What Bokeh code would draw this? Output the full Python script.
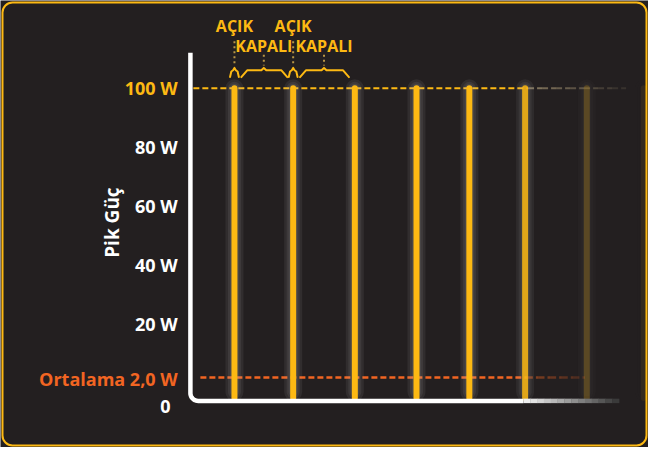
import numpy as np
from bokeh.plotting import figure
from bokeh.models import ColumnDataSource, BoxAnnotation
from bokeh.core.properties import value
from bokeh.embed import file_html
from bokeh.resources import INLINE

# ---------------- data ----------------
pulse_times = [0.0, 1.0, 2.05, 3.1, 4.0, 4.95, 6.0, 6.97]
pulse_power = [100, 100, 100, 100, 100, 100, 100, 100]
pulse_alpha = [1.0, 1.0, 1.0, 1.0, 1.0, 0.85, 0.22, 0.08]
peak_power = 100
average_power = 2.0
tick_values = [20, 40, 60, 80]
tick_labels = ["20 W", "40 W", "60 W", "80 W"]
peak_label = "100 W"
average_label = "Ortalama 2,0 W"
zero_label = "0"
y_title = "Pik Güç"
on_label = "AÇIK"
off_label = "KAPALI"

# ---------------- style ----------------
BG = "#231F20"
YELLOW = "#FDB913"
ORANGE = "#F26522"
WHITE = "#FFFFFF"
FONT = value("Open Sans")

W, H = 648, 447
X0, X1 = -3.984, 7.051
Y0, Y1 = -21.69, 129.74
XS = (X1 - X0) / W      # data per screen px (x)
YS = (Y1 - Y0) / H      # data per screen px (y)
RX = 1 / 60.0           # data per reference px (x)
RY = 1 / 3.045          # data per reference px (y)

p = figure(width=W, height=H, x_range=(X0, X1), y_range=(Y0, Y1),
           x_axis_type=None, y_axis_type=None, output_backend="svg",
           toolbar_location=None, min_border=0,
           background_fill_color=BG, border_fill_color=BG,
           outline_line_color=None)
p.grid.visible = False

# card border
p.add_layout(BoxAnnotation(left=X0 + 2 * XS, right=X1 - 2 * XS,
                           bottom=Y0 + 2 * YS, top=Y1 - 2 * YS,
                           fill_alpha=0, line_color=YELLOW, line_alpha=1.0,
                           line_width=2, border_radius=10))

axis_x = -0.75
floor = -5.9
axis_top = 112
line_start = -0.7
fade_start = 4.95


def fade_edges(a, b, n):
    return np.linspace(a, b, n + 1)


# 100 W dashed peak line
p.line([line_start, fade_start + 0.05], [peak_power, peak_power], line_color=YELLOW,
       line_width=2, line_dash="6 3")
e = fade_edges(fade_start + 0.05, 6.67, 7)
for i in range(7):
    p.line([e[i], e[i + 1]], [peak_power, peak_power], line_color="#C8B48A",
           line_alpha=0.55 - 0.07 * i, line_width=2, line_dash="6 3")

# average dashed line
p.line([line_start + 0.12, fade_start + 0.03], [average_power, average_power],
       line_color=ORANGE, line_width=2.5, line_dash="6 3")
e = fade_edges(fade_start + 0.03, 5.97, 5)
for i in range(5):
    p.line([e[i], e[i + 1]], [average_power, average_power], line_color=ORANGE,
           line_alpha=0.45 - 0.06 * i, line_width=2.5, line_dash="6 3")

# pulses
src = ColumnDataSource(dict(t=pulse_times, pw=pulse_power, a=pulse_alpha,
                            fl=[floor + 1.0] * len(pulse_times),
                            gfl=[floor + 3.0] * len(pulse_times),
                            ga=[0.1 * v for v in pulse_alpha]))
for lw in (18, 13, 9):
    p.segment(x0="t", y0="gfl", x1="t", y1="pw", source=src, line_color="#B0B0B0",
              line_alpha="ga", line_width=lw, line_cap="round")
p.segment(x0="t", y0="fl", x1="t", y1="pw", source=src, line_color=YELLOW,
          line_alpha="a", line_width=6, line_cap="round")

# axis frame (vertical + rounded corner + baseline)
rx = 8 * RX
ry = 8 * RY
th = np.linspace(np.pi, 1.5 * np.pi, 12)
ax_path_x = [axis_x] + list(axis_x + rx + rx * np.cos(th)) + [fade_start - 0.03]
ax_path_y = [axis_top] + list(floor + ry + ry * np.sin(th)) + [floor]
p.line(ax_path_x, ax_path_y, line_color=WHITE, line_width=4.5, line_join="round")
n = 14
e = fade_edges(fade_start - 0.03, 6.55, n)
c0 = np.array([240, 240, 240])
c1 = np.array([58, 58, 58])
for i in range(n):
    f = i / (n - 1)
    c = (c0 * (1 - f) + c1 * f).astype(int)
    p.line([e[i], e[i + 1] + 0.005], [floor, floor], line_color="#%02x%02x%02x" % tuple(c),
           line_width=4.5, line_cap="butt")

# labels
label_x = -0.967
p.text(x=[label_x] * len(tick_values), y=tick_values, text=tick_labels,
       text_font=FONT, text_font_style="bold", text_font_size="18px",
       text_color=WHITE, text_align="right", text_baseline="middle")
p.text(x=[label_x], y=[peak_power], text=[peak_label], text_font=FONT,
       text_font_style="bold", text_font_size="18px", text_color=YELLOW,
       text_align="right", text_baseline="middle")
p.text(x=[label_x], y=[average_power], text=[average_label], text_font=FONT,
       text_font_style="bold", text_font_size="18px", text_color=ORANGE,
       text_align="right", text_baseline="middle", y_offset=1)
p.text(x=[label_x], y=[floor], text=[zero_label], text_font=FONT,
       text_font_style="bold", text_font_size="18px", text_color=WHITE,
       text_align="right", text_baseline="middle", x_offset=-7, y_offset=6)
p.text(x=[-2.083], y=[54.5], text=[y_title], text_font=FONT,
       text_font_style="bold", text_font_size="19px", text_color=WHITE,
       text_align="center", text_baseline="middle", angle=np.pi / 2)

# ON / OFF annotations for the first two periods
foot = peak_power + 3.8
top = peak_power + 6.1
tip = peak_power + 6.9
bx, by = [], []
dx, dy = [], []
for k in range(2):
    t = pulse_times[k]
    offs = [(-4.5, foot), (-3.2, top - 0.4), (-1.4, top), (0, tip), (1.4, top), (3.2, top - 0.4), (4.5, foot)]
    bx.append([t + o * RX for o, _ in offs])
    by.append([yy for _, yy in offs])
    a = t + 7 * RX
    b = pulse_times[k + 1] - 6 * RX
    m = (t + pulse_times[k + 1]) / 2
    bx.append([a, a + 6 * RX, m - 2.5 * RX, m, m + 2.5 * RX, b - 6 * RX, b])
    by.append([foot, top, top, tip, top, top, foot])
    dx.append([t, t])
    dy.append([peak_power + (91.5 - 43) * RY, tip + 0.8])
    dx.append([m, m])
    dy.append([peak_power + (91.5 - 57) * RY, tip + 0.8])
p.multi_line(dx, dy, line_color="#C9A24A", line_width=2, line_dash="2 3", line_alpha=0.9)
p.multi_line(bx, by, line_color=YELLOW, line_width=2, line_join="round", line_cap="round")
mids = [(pulse_times[k] + pulse_times[k + 1]) / 2 for k in range(2)]
p.text(x=pulse_times[:2], y=[peak_power + (91.5 - 27) * RY] * 2, text=[on_label] * 2,
       text_font=FONT, text_font_style="bold", text_font_size="16px", text_color=YELLOW,
       text_align="center", text_baseline="middle")
p.text(x=mids, y=[peak_power + (91.5 - 48) * RY] * 2, text=[off_label] * 2,
       text_font=FONT, text_font_style="bold", text_font_size="16px", text_color=YELLOW,
       text_align="center", text_baseline="middle")

open("out.html", "w").write(file_html(p, INLINE))
